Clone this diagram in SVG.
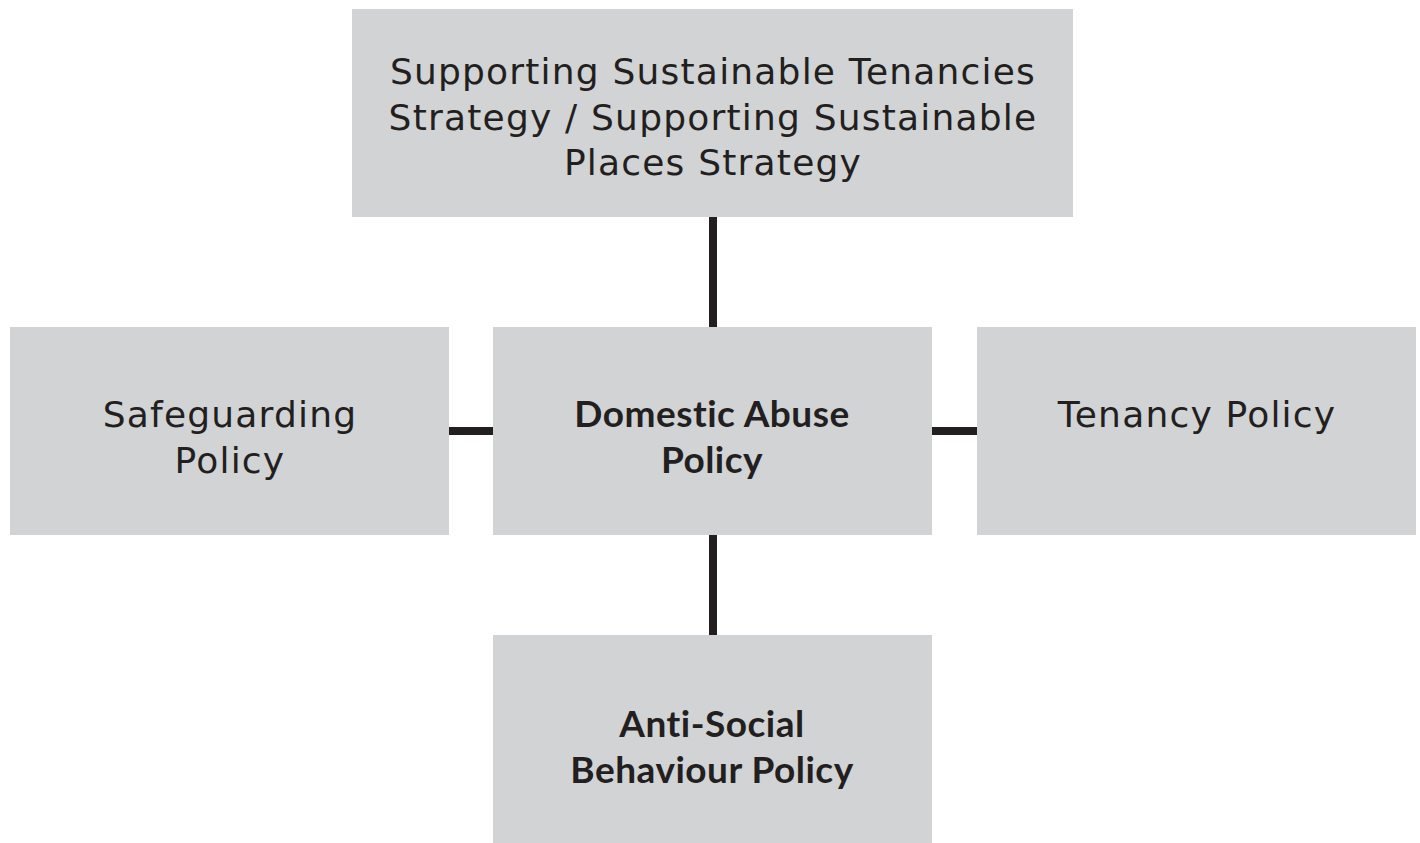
<svg xmlns="http://www.w3.org/2000/svg" width="1420" height="843" viewBox="0 0 1420 843">
<style>
.box{fill:#d1d3d4}
.t{font-family:"DejaVu Sans","Liberation Sans",sans-serif;font-size:36px;fill:#231f20;text-anchor:middle;letter-spacing:1.2px}
.b{font-family:Lato,"DejaVu Sans",sans-serif;font-weight:bold;font-size:37px;letter-spacing:0.5px}
.c{stroke:#231f20;stroke-width:8;fill:none}
</style>
<rect width="1420" height="843" fill="#ffffff"/>
<g id="connectors">
<line class="c" x1="713" y1="216" x2="713" y2="328"/>
<line class="c" x1="713" y1="534" x2="713" y2="636"/>
<line class="c" x1="448" y1="431" x2="494" y2="431"/>
<line class="c" x1="931" y1="431" x2="978" y2="431"/>
</g>
<g id="strategy">
<rect class="box" x="352" y="9" width="721" height="208"/>
<text class="t" x="713" y="84">Supporting Sustainable Tenancies</text>
<text class="t" x="713" y="130">Strategy / Supporting Sustainable</text>
<text class="t" x="713" y="175">Places Strategy</text>
</g>
<g id="safeguarding">
<rect class="box" x="10" y="327" width="439" height="208"/>
<text class="t" x="230" y="427">Safeguarding</text>
<text class="t" x="230" y="473">Policy</text>
</g>
<g id="domestic">
<rect class="box" x="493" y="327" width="439" height="208"/>
<text class="t b" x="712" y="427">Domestic Abuse</text>
<text class="t b" x="712" y="473">Policy</text>
</g>
<g id="tenancy">
<rect class="box" x="977" y="327" width="439" height="208"/>
<text class="t" x="1197" y="427">Tenancy Policy</text>
</g>
<g id="asb">
<rect class="box" x="493" y="635" width="439" height="208"/>
<text class="t b" x="712" y="737">Anti-Social</text>
<text class="t b" x="712" y="783">Behaviour Policy</text>
</g>
</svg>
